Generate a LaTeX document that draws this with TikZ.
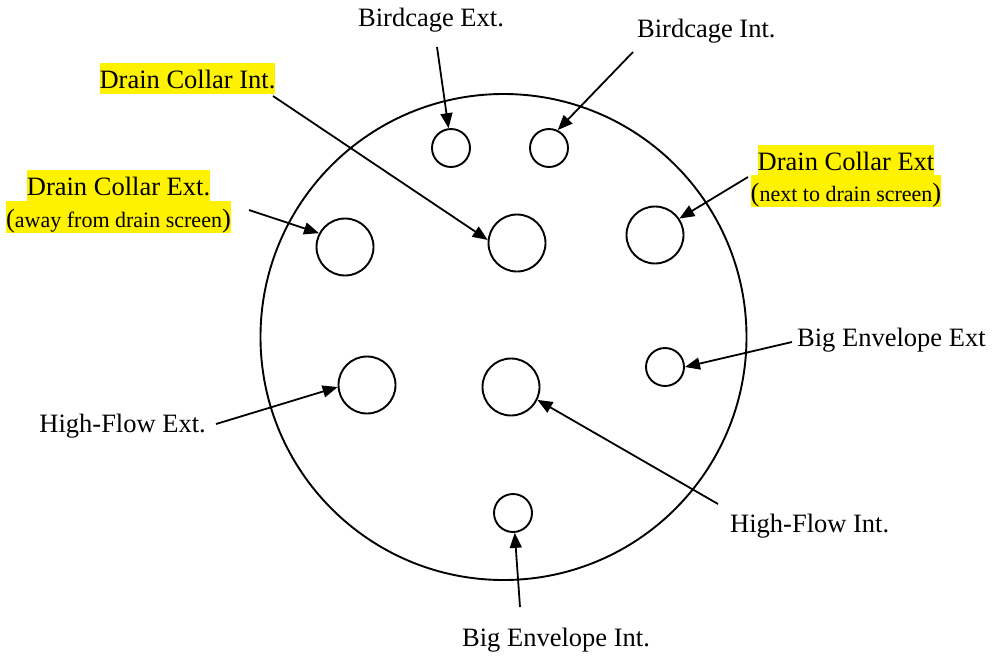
\documentclass[tikz,border=0pt]{standalone}
\usepackage{fontspec}
\setmainfont{Liberation Serif}
\usetikzlibrary{arrows.meta}
\tikzset{
  hole/.style={circle, draw, line width=1.9pt, inner sep=0pt},
  bighole/.style={hole, minimum size=57pt},
  smallhole/.style={hole, minimum size=38pt},
  lbl/.style={inner sep=0pt, font=\fontsize{26.5}{30}\selectfont},
  hl/.style={lbl, fill=yellow, text height=25pt, text depth=6pt},
  hlsmall/.style={lbl, fill=yellow, text height=26.5pt, text depth=6pt},
  pointer/.style={line width=1.8pt, -{Triangle[length=15pt,width=12pt]}},
}
\newcommand{\smalltxt}[1]{{\fontsize{22}{26}\selectfont #1}}
\begin{document}
\begin{tikzpicture}[x=1pt,y=-1pt]
\useasboundingbox (0,0) rectangle (994,657);
% outer disc
\node[circle, draw, line width=1.9pt, inner sep=0pt, minimum size=486pt] (disc) at (503.5,337) {};
% holes
\node[smallhole] (bce) at (451,148) {};
\node[smallhole] (bci) at (549,148) {};
\node[bighole] (dci) at (517,243) {};
\node[bighole] (dcel) at (345,247) {};
\node[bighole] (dcer) at (655,235) {};
\node[smallhole] (bee) at (665,367) {};
\node[bighole] (hfe) at (367,385) {};
\node[bighole] (hfi) at (511,387) {};
\node[smallhole] (bei) at (513,513) {};
% labels
\node[lbl, anchor=base west] (tbce) at (358,26) {Birdcage Ext.};
\node[lbl, anchor=base west] (tbci) at (637,37) {Birdcage Int.};
\node[hl, anchor=base] (tdci) at (187.5,88) {Drain Collar Int.};
\node[hl, anchor=base] (tdcel1) at (118.5,195) {Drain Collar Ext.};
\node[hlsmall, anchor=base] (tdcel2) at (118.5,227) {(\smalltxt{away from drain screen})};
\node[hl, anchor=base] (tdcer1) at (846,170) {Drain Collar Ext};
\node[hlsmall, anchor=base] (tdcer2) at (846,201) {(\smalltxt{next to drain screen})};
\node[lbl, anchor=base west] (tbee) at (797,346) {Big Envelope Ext};
\node[lbl, anchor=base east] (thfe) at (206,432) {High-Flow Ext.};
\node[lbl, anchor=base west] (thfi) at (730,532) {High-Flow Int.};
\node[lbl, anchor=base west] (tbei) at (462,646) {Big Envelope Int.};
% connector free ends
\coordinate (sbce) at (437,47);
\coordinate (sbci) at (633,52);
\coordinate (sdci) at (273,96);
\coordinate (sdcel) at (249,210);
\coordinate (sdcer) at (748,177);
\coordinate (sbee) at (792,342);
\coordinate (shfe) at (216,424);
\coordinate (shfi) at (718,504);
\coordinate (sbei) at (520,607);
% connectors
\draw[pointer] (sbce) -- (bce.97);
\draw[pointer] (sbci) -- (bci.64);
\draw[pointer] (sdci) -- (dci.174);
\draw[pointer] (sdcel) -- (dcel.152);
\draw[pointer] (sdcer) -- (dcer.34);
\draw[pointer] (sbee) -- (bee.0);
\draw[pointer] (shfe) -- (hfe.184);
\draw[pointer] (shfi) -- (hfi.334);
\draw[pointer] (sbei) -- (bei.275);
\end{tikzpicture}
\end{document}
